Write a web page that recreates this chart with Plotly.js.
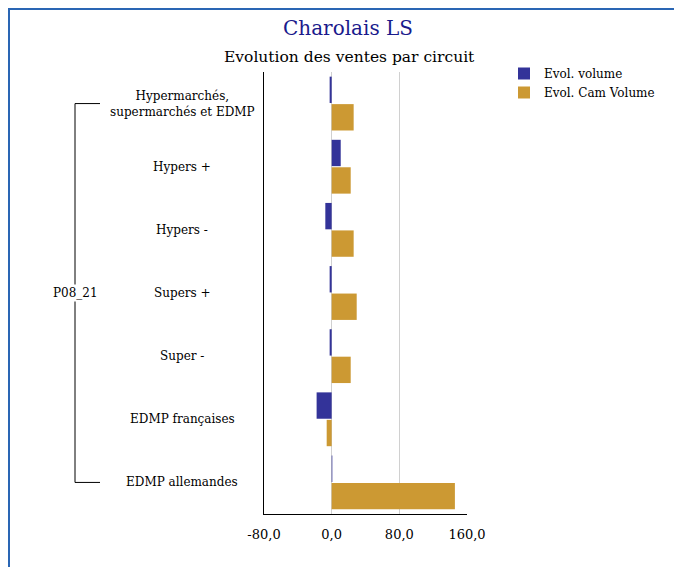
<!DOCTYPE html>
<html>
<head>
<meta charset="utf-8">
<script src="https://cdn.plot.ly/plotly-3.0.1.min.js"></script>
<style>
  html, body { margin: 0; padding: 0; background: #fff; }
  #wrap { position: relative; width: 674px; height: 567px; overflow: hidden; }
  #chart { width: 674px; height: 567px; }
  #frame { position: absolute; left: 8px; top: 8px; width: 700px; height: 600px;
           border-top: 2px solid #2a66b4; border-left: 2px solid #2a66b4; pointer-events: none; }
</style>
</head>
<body>
<div id="wrap">
  <div id="chart"></div>
  <div id="frame"></div>
</div>
<script>
const categories = [
  "Hypermarchés,<br>supermarchés et EDMP",
  "Hypers +",
  "Hypers -",
  "Supers +",
  "Super -",
  "EDMP françaises",
  "EDMP allemandes"
];
const groupLabel = "P08_21";
const seriesNames = ["Evol. volume", "Evol. Cam Volume"];
const evolVolume = [-2.4, 10.7, -7.5, -2.4, -2.4, -17.8, 0.8];
const evolCamVolume = [26.0, 22.5, 26.0, 29.6, 22.5, -5.9, 145.7];
const xTicks = [-80, 0, 80, 160];
const xTickLabels = xTicks.map(v => v.toFixed(1).replace(".", ","));

const FONT = "DejaVu Serif, Liberation Serif, serif";

const traces = [
  { type: "bar", orientation: "h", name: seriesNames[0], y: categories, x: evolVolume,
    marker: { color: "#333399" }, hoverinfo: "x+name" },
  { type: "bar", orientation: "h", name: seriesNames[1], y: categories, x: evolCamVolume,
    marker: { color: "#CC9933" }, hoverinfo: "x+name" }
];

// plot area in pixels
const L = 264, R = 467, T = 72, B = 514;
const W = R - L, H = B - T;
const px2paperX = p => (p - L) / W;
const px2paperY = p => (B - p) / H;

const annotations = categories.map(c => ({
  xref: "paper", yref: "y", x: px2paperX(182), y: c, text: c,
  showarrow: false, xanchor: "center", yanchor: "middle",
  font: { family: FONT, size: 12, color: "#000" }
}));
annotations.push({
  xref: "paper", yref: "y", x: px2paperX(75), y: 3, text: groupLabel,
  showarrow: false, xanchor: "center", yanchor: "middle", bgcolor: "#fff",
  font: { family: FONT, size: 12, color: "#000" }
});
annotations.push({
  xref: "paper", yref: "paper", x: px2paperX(349), y: px2paperY(57),
  text: "Evolution des ventes par circuit", showarrow: false, xanchor: "center", yanchor: "middle",
  font: { family: FONT, size: 15.5, color: "#000" }
});

const shapes = [
  { type: "line", xref: "paper", yref: "y", x0: px2paperX(75), x1: px2paperX(75), y0: 0, y1: 6,
    line: { color: "#000", width: 1 } },
  { type: "line", xref: "paper", yref: "y", x0: px2paperX(75), x1: px2paperX(100), y0: 0, y1: 0,
    line: { color: "#000", width: 1 } },
  { type: "line", xref: "paper", yref: "y", x0: px2paperX(75), x1: px2paperX(100), y0: 6, y1: 6,
    line: { color: "#000", width: 1 } }
];

const layout = {
  width: 674, height: 567,
  margin: { l: L, r: 674 - R, t: T, b: 567 - B, pad: 0, autoexpand: false },
  paper_bgcolor: "#fff", plot_bgcolor: "#fff",
  font: { family: FONT, size: 12, color: "#000" },
  title: { text: "Charolais LS", x: 348 / 674, xanchor: "center", xref: "container",
           y: 1 - 28 / 567, yanchor: "middle", yref: "container",
           font: { family: FONT, size: 20, color: "#1a1a8c" } },
  barmode: "group", bargap: 0.13, bargroupgap: 0.04,
  showlegend: true,
  legend: { xref: "container", yref: "container", x: 504 / 674, xanchor: "left",
            y: 1 - 59 / 567, yanchor: "top",
            font: { family: FONT, size: 12, color: "#000" }, tracegroupgap: 0,
            itemclick: false, bgcolor: "rgba(0,0,0,0)" },
  xaxis: { range: [-80, 160], tickvals: xTicks, ticktext: xTickLabels, showgrid: true,
           gridcolor: "#d0d0d0", gridwidth: 1.3, zeroline: true, zerolinecolor: "#d0d0d0", zerolinewidth: 1.3,
           showline: true, linecolor: "#000", linewidth: 1, ticks: "", ticklen: 0,
           ticklabelstandoff: 8,
           tickfont: { family: FONT, size: 13, color: "#000" }, fixedrange: true },
  yaxis: { type: "category", autorange: "reversed", showticklabels: false, showgrid: false,
           showline: true, linecolor: "#000", linewidth: 1.5, ticks: "", fixedrange: true },
  annotations: annotations,
  shapes: shapes
};

Plotly.newPlot("chart", traces, layout, { displayModeBar: false, staticPlot: true });
</script>
</body>
</html>
